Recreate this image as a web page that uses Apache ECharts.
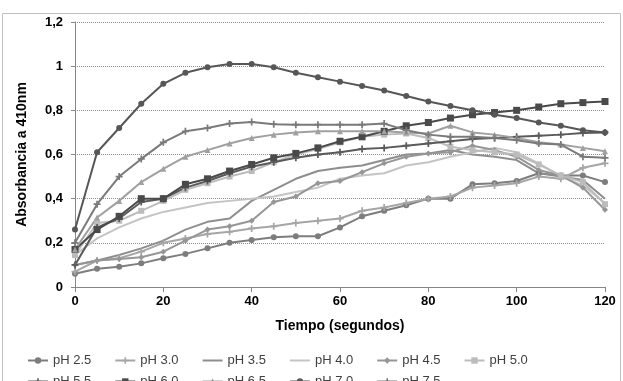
<!DOCTYPE HTML>
<html>
<head>
    <meta charset="utf-8">
    <title>Absorbancia vs tiempo</title>
    <script type="text/javascript" src="https://cdn.jsdelivr.net/npm/echarts@6/dist/echarts.min.js"></script>
    <style>
        html, body { margin: 0; padding: 0; background: #fff; }
        #main { width: 623px; height: 381px; }
    </style>
</head>
<body>
<div id="main"></div>
<script>
    // tiempo (s)
    var tiempos = [0, 5, 10, 15, 20, 25, 30, 35, 40, 45, 50, 55, 60, 65, 70, 75, 80, 85, 90, 95, 100, 105, 110, 115, 120];

    var yTicks = ['0', '0,2', '0,4', '0,6', '0,8', '1', '1,2'];

    var nombres = ['pH 2.5', 'pH 3.0', 'pH 3.5', 'pH 4.0', 'pH 4.5', 'pH 5.0',
                   'pH 5.5', 'pH 6.0', 'pH 6.5', 'pH 7.0', 'pH 7.5'];

    var ph25 = [0.06, 0.083, 0.092, 0.107, 0.13, 0.15, 0.175, 0.20, 0.213, 0.225, 0.23, 0.23, 0.27, 0.32, 0.345, 0.37, 0.40, 0.40, 0.465, 0.47, 0.48, 0.515, 0.505, 0.505, 0.475];
    var ph30 = [0.07, 0.12, 0.13, 0.16, 0.20, 0.22, 0.24, 0.25, 0.265, 0.275, 0.29, 0.30, 0.31, 0.345, 0.36, 0.38, 0.40, 0.41, 0.45, 0.46, 0.47, 0.50, 0.49, 0.54, 0.56];
    var ph35 = [0.10, 0.12, 0.145, 0.175, 0.21, 0.26, 0.295, 0.31, 0.39, 0.44, 0.49, 0.525, 0.54, 0.55, 0.575, 0.60, 0.605, 0.62, 0.60, 0.59, 0.575, 0.515, 0.50, 0.485, 0.40];
    var ph40 = [0.145, 0.22, 0.27, 0.31, 0.34, 0.36, 0.38, 0.39, 0.40, 0.41, 0.43, 0.45, 0.49, 0.505, 0.515, 0.55, 0.565, 0.59, 0.61, 0.63, 0.61, 0.56, 0.50, 0.46, 0.38];
    var ph45 = [0.10, 0.12, 0.127, 0.135, 0.16, 0.21, 0.26, 0.275, 0.30, 0.385, 0.41, 0.47, 0.48, 0.52, 0.56, 0.59, 0.605, 0.61, 0.64, 0.62, 0.59, 0.53, 0.505, 0.45, 0.35];
    var ph50 = [0.145, 0.29, 0.30, 0.345, 0.39, 0.44, 0.47, 0.50, 0.525, 0.565, 0.60, 0.625, 0.655, 0.68, 0.69, 0.695, 0.675, 0.635, 0.62, 0.61, 0.60, 0.555, 0.505, 0.475, 0.375];
    var ph55 = [0.10, 0.27, 0.31, 0.385, 0.40, 0.45, 0.48, 0.515, 0.545, 0.565, 0.585, 0.60, 0.61, 0.625, 0.63, 0.64, 0.65, 0.66, 0.67, 0.675, 0.68, 0.685, 0.69, 0.697, 0.70];
    var ph60 = [0.17, 0.26, 0.32, 0.40, 0.40, 0.465, 0.49, 0.525, 0.555, 0.585, 0.605, 0.63, 0.66, 0.68, 0.705, 0.73, 0.745, 0.765, 0.78, 0.79, 0.80, 0.815, 0.83, 0.835, 0.84];
    var ph65 = [0.17, 0.315, 0.39, 0.475, 0.535, 0.59, 0.62, 0.65, 0.675, 0.69, 0.70, 0.705, 0.705, 0.705, 0.705, 0.70, 0.695, 0.73, 0.70, 0.69, 0.675, 0.655, 0.645, 0.63, 0.615];
    var ph70 = [0.26, 0.61, 0.72, 0.83, 0.92, 0.97, 0.995, 1.01, 1.01, 0.995, 0.97, 0.95, 0.93, 0.91, 0.89, 0.865, 0.84, 0.82, 0.80, 0.78, 0.765, 0.745, 0.73, 0.71, 0.70];
    var ph75 = [0.20, 0.375, 0.50, 0.58, 0.655, 0.705, 0.72, 0.74, 0.747, 0.737, 0.735, 0.735, 0.735, 0.735, 0.74, 0.71, 0.69, 0.68, 0.68, 0.675, 0.665, 0.65, 0.645, 0.59, 0.585];

    var valores = [ph25, ph30, ph35, ph40, ph45, ph50, ph55, ph60, ph65, ph70, ph75];

    var colores = ['#7d7d7d', '#a6a6a6', '#8e8e8e', '#c4c4c4', '#969696', '#bcbcbc',
                   '#5a5a5a', '#4a4a4a', '#a0a0a0', '#575757', '#7a7a7a'];

    var mas = 'path://M3,0h2v3h3v2h-3v3h-2v-3h-3v-2h3z'; // marcador "+"
    var simbolos = ['circle', mas, 'none', 'none', 'diamond', 'rect',
                    mas, 'rect', 'triangle', 'circle', mas];
    var tamanos = [6, 7, 0, 0, 6, 6, 7, 7, 6, 6, 7];

    var fuente = '"Liberation Sans", Arial, sans-serif';

    var myChart = echarts.init(document.getElementById('main'));

    function armarSeries() {
        var series = [];
        for (var i = 0; i < nombres.length; i++) {
            var datos = [];
            for (var j = 0; j < tiempos.length; j++) {
                datos.push([tiempos[j], valores[i][j]]);
            }
            series.push({
                name: nombres[i],
                type: 'line',
                data: datos,
                symbol: simbolos[i],
                symbolSize: tamanos[i],
                showSymbol: simbolos[i] !== 'none',
                color: colores[i],
                lineStyle: { width: 2, color: colores[i] },
                itemStyle: { color: colores[i] }
            });
        }
        return series;
    }

    // leyenda: sin marcador para las series que no lo tienen
    function datosLeyenda(desde, hasta) {
        var d = [];
        for (var i = desde; i < hasta; i++) {
            if (simbolos[i] === 'none') {
                d.push({ name: nombres[i], itemStyle: { opacity: 0 } });
            } else {
                d.push({ name: nombres[i] });
            }
        }
        return d;
    }

    var option = {
        animation: false,
        backgroundColor: '#ffffff',
        graphic: [{
            type: 'rect',
            shape: { x: 2.5, y: 13.5, width: 618, height: 400 },
            style: { fill: 'none', stroke: '#c0c0c0', lineWidth: 1 },
            silent: true
        }],
        grid: { left: 75, right: 18, top: 22, bottom: 94 },
        legend: [{
            data: datosLeyenda(0, 6),
            left: 22, top: 349,
            itemWidth: 20, itemHeight: 8, itemGap: 23,
            textStyle: { fontFamily: fuente, fontSize: 13, color: '#404040' }
        }, {
            data: datosLeyenda(6, 11),
            left: 22, top: 370,
            itemWidth: 20, itemHeight: 8, itemGap: 23,
            textStyle: { fontFamily: fuente, fontSize: 13, color: '#404040' }
        }],
        xAxis: {
            type: 'value',
            min: 0, max: 120, interval: 20,
            name: 'Tiempo (segundos)',
            nameLocation: 'middle',
            nameGap: 32,
            nameTextStyle: { fontFamily: fuente, fontSize: 14, fontWeight: 'bold', color: '#000' },
            axisLine: { lineStyle: { color: '#868686', width: 1 } },
            axisTick: { show: true, inside: false, length: 5, lineStyle: { color: '#868686' } },
            axisLabel: { margin: 8, fontFamily: fuente, fontSize: 13, fontWeight: 'bold', color: '#000' },
            splitLine: { show: false }
        },
        yAxis: {
            type: 'value',
            min: 0, max: 1.2, interval: 0.2,
            name: 'Absorbancia a 410nm',
            nameLocation: 'middle',
            nameGap: 46,
            nameTextStyle: { fontFamily: fuente, fontSize: 14, fontWeight: 'bold', color: '#000' },
            axisLine: { show: true, lineStyle: { color: '#868686', width: 1 } },
            axisTick: { show: true, inside: false, length: 4, lineStyle: { color: '#868686' } },
            axisLabel: {
                margin: 12, fontFamily: fuente, fontSize: 13, fontWeight: 'bold', color: '#000',
                formatter: function (v) { return yTicks[Math.round(v / 0.2)]; }
            },
            splitLine: { lineStyle: { color: '#8c8c8c', type: 'dotted', width: 1 } }
        },
        series: armarSeries()
    };

    myChart.setOption(option);
</script>
</body>
</html>
